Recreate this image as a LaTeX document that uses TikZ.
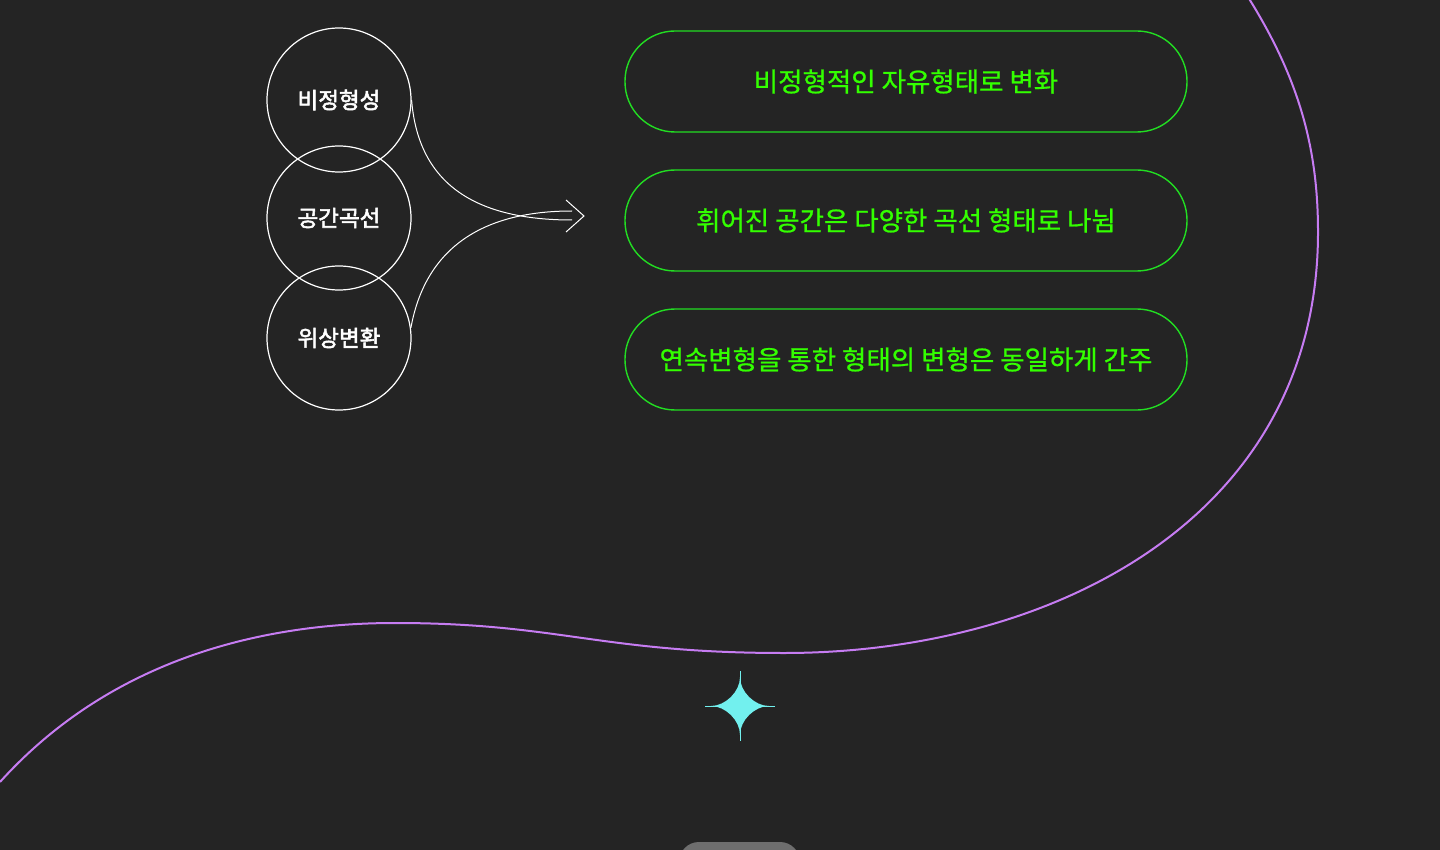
\documentclass[tikz,border=0pt]{standalone}
\usepackage{fontspec}
\setmainfont{Noto Sans CJK KR}
\definecolor{bg}{HTML}{242424}
\definecolor{pillline}{HTML}{22DD22}
\definecolor{pilltext}{HTML}{33FF00}
\definecolor{purp}{HTML}{C67CF2}
\definecolor{starc}{HTML}{72F0EE}
\definecolor{knob}{HTML}{6E6E6E}
\tikzset{
  ring/.style={circle, draw=white, line width=1.2pt, minimum size=144pt, inner sep=0pt, text=white, font=\fontsize{22.5}{26}\selectfont\addfontfeatures{FakeBold=2.4}},
  pill/.style={draw=pillline, line width=1.4pt, rounded corners=50pt, minimum width=562pt, minimum height=101pt, inner sep=0pt, text=pilltext, font=\fontsize{26.5}{30}\selectfont\addfontfeatures{FakeBold=0.8}},
  flow/.style={draw=white, line width=1pt},
  wave/.style={draw=purp, line width=2pt},
  needle/.style={draw=starc, line width=0.4pt}
}
\begin{document}
\begin{tikzpicture}[x=1pt,y=-1pt]
\fill[bg] (0,0) rectangle (1440,850);
\useasboundingbox (0,0) rectangle (1440,850);
% purple wave
\draw[wave] (1248,-3) .. controls (1300,80) and (1318,150) .. (1318,232)
  .. controls (1318,520) and (1050,653) .. (784,653)
  .. controls (600,653) and (560,623) .. (395,623)
  .. controls (260,623) and (110,660) .. (0,782);
% circles
\node[ring] (c1) at (339,100) {비정형성};
\node[ring] (c2) at (339,218) {공간곡선};
\node[ring] (c3) at (339,338) {위상변환};
% pills
\node[pill] (p1) at (906,81.5) {비정형적인 자유형태로 변화};
\node[pill] (p2) at (906,220.5) {휘어진 공간은 다양한 곡선 형태로 나뉨};
\node[pill] (p3) at (906,359.5) {연속변형을 통한 형태의 변형은 동일하게 간주};
% merging arrow
\coordinate (e1) at (572,220);
\coordinate (e2) at (572,211);
\coordinate (tip) at (584,216);
\coordinate (armA) at (566,200);
\coordinate (armB) at (566,232);
\draw[flow] (c1.east) .. controls (418,180) and (470,220) .. (e1);
\draw[flow] (c3.8) .. controls (425,250) and (480,211) .. (e2);
\draw[flow, line join=miter] (armA) -- (tip) -- (armB);
% star
\fill[starc] (740,677) .. controls (740,692) and (755,706) .. (769,706)
  .. controls (755,706) and (740,720) .. (740,735)
  .. controls (740,720) and (725,706) .. (711,706)
  .. controls (725,706) and (740,692) .. (740,677) -- cycle;
\draw[needle] (740,671) -- (740,741);
\draw[needle] (705,706) -- (775,706);
% bottom knob
\fill[knob, rounded corners=20pt] (679,842) rectangle (800,880);
\end{tikzpicture}
\end{document}
